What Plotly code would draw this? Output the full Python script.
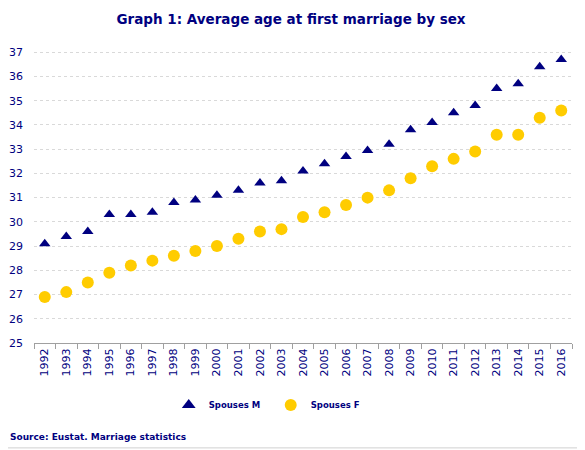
import plotly.graph_objs as go

years = [str(y) for y in range(1992, 2017)]
spouses_m = [29.1, 29.4, 29.6, 30.3, 30.3, 30.4, 30.8, 30.9, 31.1, 31.3,
             31.6, 31.7, 32.1, 32.4, 32.7, 32.95, 33.2, 33.8, 34.1, 34.5,
             34.8, 35.5, 35.7, 36.4, 36.7]
spouses_f = [26.9, 27.1, 27.5, 27.9, 28.2, 28.4, 28.6, 28.8, 29.0, 29.3,
             29.6, 29.7, 30.2, 30.4, 30.7, 31.0, 31.3, 31.8, 32.3, 32.6,
             32.9, 33.6, 33.6, 34.3, 34.6]
y_ticks = list(range(25, 38))

navy = '#000080'
font = 'DejaVu Sans'

fig = go.Figure()
fig.add_trace(go.Scatter(
    x=years, y=spouses_m, mode='markers', name='<b>Spouses M</b>',
    marker=dict(symbol='triangle-up', size=10, color=navy)
))
fig.add_trace(go.Scatter(
    x=years, y=spouses_f, mode='markers', name='<b>Spouses F</b>',
    marker=dict(symbol='circle', size=12, color='#ffcc00')
))

# page body has an 8px margin, so the figure is a bit smaller than the window
fig.update_layout(
    width=577, height=442,
    margin=dict(l=26, r=13, t=37, b=107, autoexpand=False),
    paper_bgcolor='white', plot_bgcolor='white',
    font=dict(family=font, color=navy, size=11),
    title=dict(text='<b>Graph 1: Average age at first marriage by sex</b>',
               x=0.4905, xanchor='center', y=0.985, yanchor='top',
               font=dict(size=13.5, color=navy, family=font)),
    legend=dict(orientation='h', x=0.44, xanchor='center', y=-0.208,
                yanchor='middle', font=dict(size=8.5, color=navy),
                itemsizing='constant', itemwidth=30, tracegroupgap=0,
                entrywidth=57, entrywidthmode='pixels'),
    showlegend=True,
)
fig.update_xaxes(
    type='category', range=[-0.5, 24.5], tickangle=-90, automargin=False,
    showline=True, linecolor='#a0a0a0', linewidth=1,
    ticks='outside', ticklen=5, tickcolor='#a0a0a0', tickson='boundaries',
    showgrid=False, tickfont=dict(size=11, color=navy)
)
fig.update_yaxes(
    range=[25, 37.3], tickvals=y_ticks, showgrid=True, gridcolor='#d9d9d9',
    griddash='dot', gridwidth=1, zeroline=False, ticks='', automargin=False,
    tickfont=dict(size=11, color=navy), ticklabelstandoff=10
)
fig.add_annotation(
    text='<b>Source: Eustat. Marriage statistics</b>', xref='paper', yref='paper',
    x=-0.048, y=-0.315, xanchor='left', yanchor='middle', showarrow=False,
    font=dict(size=9, color=navy, family=font)
)
fig.add_shape(type='line', xref='paper', yref='paper', x0=-0.0483, x1=1.024,
              y0=-0.352, y1=-0.352, line=dict(color='#d0d0d0', width=1))

fig.write_html("out.html")
